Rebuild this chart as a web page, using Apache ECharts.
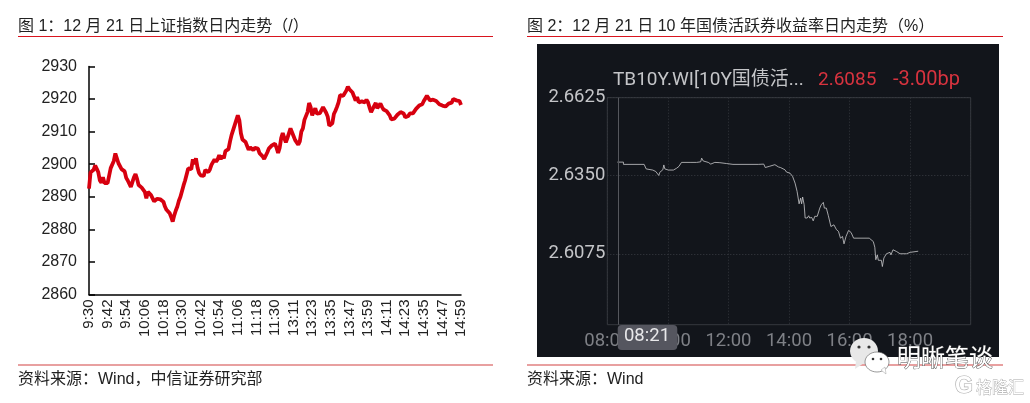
<!DOCTYPE html>
<html><head><meta charset="utf-8">
<style>html,body{margin:0;padding:0;background:#fff}#c{width:1030px;height:403px}</style>
<script src="https://cdn.jsdelivr.net/npm/echarts@6/dist/echarts.min.js"></script>
</head><body><div id="c"></div>
<script>
const morningStart = 570, morningCount = 121, afternoonStart = 780, afternoonCount = 120;
const indexValues = [
2892.5,2897.5,2898,2898.3,2899.6,2898.6,2897.5,2895,2894.3,2896,2894.2,2893.8,2894.2,2896.5,2898.8,2899,2901,2903.3,2903,2900.3,
2900.2,2898.5,2898.7,2897.8,2895.8,2895,2894,2893,2894.5,2896,2897,2895.5,2893.6,2893.3,2892.8,2892.3,2891.5,2889.5,2891.5,2892,
2890.5,2890.8,2888.6,2889,2889.4,2889.6,2889.2,2889,2888.5,2887,2886,2885.6,2885,2883.8,2882.4,2884.3,2885.8,2887,2888.8,2890,
2889.8,2893.5,2895,2894.8,2898.7,2898.2,2898.5,2901.5,2900,2901.8,2899,2897.3,2896.6,2896.2,2896.4,2898.2,2898.8,2897.6,2898.4,2899.8,
2900,2901.5,2900.8,2901.5,2902.8,2901.5,2902.6,2901.8,2904,2903.8,2904.6,2907,2909,2909,2912,2912.4,2915,2913.5,2909.5,2907.6,
2908,2906.8,2906.4,2904.4,2905.2,2905.2,2904.3,2905,2905.6,2904.8,2903.4,2902.8,2902.4,2901.6,2901.6,2903.6,2904.8,2905.3,2905.8,2906.2,
2906.3,2905,2903.5,2905,2908,2909.6,2908,2906.7,2908,2908.6,2911,2910.8,2908.6,2907.4,2907.2,2906,2907,2910,2911,2913.6,
2913.6,2916,2918.8,2917.5,2915,2916.2,2917.2,2915.5,2915.6,2915.7,2916.2,2917.5,2917.2,2915.8,2914.6,2911.8,2911.6,2912.6,2915.4,2916.4,
2917.6,2919,2921.2,2920.8,2921,2920.6,2922.6,2923.8,2923,2923.2,2922,2920.8,2919.5,2920.6,2919,2918.6,2919.3,2918.8,2919,2919.8,
2919,2917.4,2916,2917,2917.6,2918.8,2917.2,2917.4,2918.6,2917.6,2916.8,2916.4,2916.3,2916.2,2915,2913.8,2913.3,2914,2914.6,2915.2,
2915.8,2916,2915.6,2915.6,2914.4,2914,2914.8,2915.6,2915.4,2915.6,2915.4,2917,2917.4,2918,2918.2,2918.4,2919.4,2920.2,2921,2920.6,
2919.6,2919.6,2919.8,2919.6,2919.4,2919,2918.4,2918.2,2918,2917.6,2917.7,2918,2918.6,2918.8,2918.9,2920,2919.6,2919.6,2919.5,2919.4,
2918.2];
const bondTimes = ['08:20','08:32','08:32','09:13','09:17','09:19','09:30','09:32','09:33','09:36','09:39','09:42','09:44','09:50','09:52','09:54','10:01','10:11','10:17','10:22','10:27','10:44','10:45','10:46','10:57','10:58','11:00','11:05','11:07','11:10','11:20','11:25','11:33','11:43','11:56','12:09','12:59','13:00','13:10','13:13','13:21','13:32','13:39','13:43','13:52','13:55','14:02','14:07','14:12','14:16','14:20','14:23','14:25','14:27','14:30','14:32','14:36','14:39','14:41','14:45','14:48','14:51','14:56','15:01','15:04','15:08','15:10','15:14','15:18','15:21','15:23','15:29','15:34','15:38','15:42','15:46','15:49','15:53','15:58','16:03','16:08','16:39','16:47','16:50','16:52','16:55','16:57','17:03','17:05','17:08','17:13','17:20','17:22','17:26','17:33','17:40','17:53','18:00','18:16'];
const bondValues = [2.6398,2.6398,2.6390,2.6390,2.6374,2.6370,2.6370,2.6363,2.6374,2.6365,2.6363,2.6351,2.6362,2.6371,2.6388,2.6374,2.6370,2.6370,2.6376,2.6383,2.6397,2.6397,2.6390,2.6397,2.6397,2.6390,2.6397,2.6399,2.6412,2.6402,2.6397,2.6391,2.6397,2.6396,2.6393,2.6390,2.6390,2.6393,2.6391,2.6379,2.6383,2.6389,2.6381,2.6379,2.6371,2.6363,2.6359,2.6348,2.6324,2.6295,2.6251,2.6271,2.6251,2.6275,2.6248,2.6201,2.6201,2.6209,2.6201,2.6203,2.6191,2.6207,2.6207,2.6236,2.6248,2.6256,2.6236,2.6236,2.6209,2.6204,2.6171,2.6177,2.6160,2.6154,2.6130,2.6136,2.6110,2.6136,2.6157,2.6150,2.6130,2.6130,2.6118,2.6098,2.6054,2.6071,2.6052,2.6052,2.6030,2.6060,2.6075,2.6080,2.6071,2.6089,2.6083,2.6075,2.6075,2.6080,2.6084];
const bondTicks = [2.6075,2.6350,2.6625];
const cursorTime = '08:21';
const titleLeft = '图 1：12 月 21 日上证指数日内走势（/）';
const titleRight = '图 2：12 月 21 日 10 年国债活跃券收益率日内走势（%）';
const sourceLeft = '资料来源：Wind，中信证券研究部';
const sourceRight = '资料来源：Wind';

const hm = m => Math.floor(m/60) + ':' + String(m%60).padStart(2,'0');
const toMin = s => { const p = s.split(':'); return +p[0]*60 + +p[1]; };
const pad = m => String(Math.floor(m/60)).padStart(2,'0') + ':' + String(m%60).padStart(2,'0');
const categories = [];
for (let i=0;i<morningCount;i++) categories.push(hm(morningStart+i));
for (let i=0;i<afternoonCount;i++) categories.push(hm(afternoonStart+i));

const cjk = '"Liberation Sans","Noto Sans CJK SC",sans-serif';
const bondFont = 'Roboto,"Noto Sans CJK SC",sans-serif';
const txt = (text,x,y,size,fill,extra,z) => ({type:'text',x,y,z:z||5,silent:true,style:Object.assign({text,fontSize:size,fill,fontFamily:cjk,textVerticalAlign:'middle'},extra||{})});
const rule = (x1,x2,y,color,w) => ({type:'line',z:5,silent:true,shape:{x1,y1:y,x2,y2:y},style:{stroke:color,lineWidth:w}});

const chart = echarts.init(document.getElementById('c'),null,{renderer:'canvas'});
chart.setOption({
  animation:false,
  backgroundColor:'#fff',
  grid:[
    {left:89,width:372,top:66.5,height:228},
    {left:607.3,width:363.4,top:97.7,height:227,show:true,borderColor:'#35383e',borderWidth:1,backgroundColor:'transparent'}
  ],
  xAxis:[
    {type:'category',gridIndex:0,data:categories,boundaryGap:false,
     axisLine:{lineStyle:{color:'#000',width:1.5}},axisTick:{show:false},
     axisLabel:{interval:11,rotate:90,color:'#222',fontSize:15,fontFamily:'"Liberation Sans"',margin:5},splitLine:{show:false}},
    {type:'value',gridIndex:1,min:480,max:1200,interval:120,
     axisLine:{show:false},axisTick:{show:false},
     axisLabel:{color:'#7e8086',fontSize:18.5,fontFamily:bondFont,margin:7,showMaxLabel:false,showMinLabel:true,formatter:v=>v>=1200?'':pad(v)},
     splitLine:{show:true,lineStyle:{color:'#33363c',type:[1,2],width:1}}}
  ],
  yAxis:[
    {type:'value',gridIndex:0,min:2860,max:2930,interval:10,
     axisLine:{show:true,lineStyle:{color:'#000',width:1.5}},
     axisTick:{show:true,inside:true,length:6,lineStyle:{color:'#000',width:1.5}},
     axisLabel:{color:'#222',fontSize:16,fontFamily:'"Liberation Sans"',margin:12,padding:[2,0,0,0],formatter:v=>String(v)},splitLine:{show:false}},
    {type:'value',gridIndex:1,min:2.5825,max:2.6625,
     axisLine:{show:false},
     axisTick:{show:false,customValues:bondTicks},
     axisLabel:{color:'#c4c5c8',fontSize:18.5,fontFamily:bondFont,margin:2,padding:[5,0,0,0],customValues:bondTicks,formatter:v=>v.toFixed(4)},
     splitLine:{show:true,lineStyle:{color:'#3a3d43',type:[1,2],width:1}}}
  ],
  series:[
    {type:'line',xAxisIndex:0,yAxisIndex:0,data:indexValues,showSymbol:false,symbol:'none',
     lineStyle:{color:'#d7000f',width:3.8},z:3},
    {type:'line',xAxisIndex:1,yAxisIndex:1,data:bondTimes.map((t,i)=>[toMin(t),bondValues[i]]),showSymbol:false,symbol:'none',
     lineStyle:{color:'#c9c9cb',width:0.8},z:3,
     markLine:{silent:true,symbol:'none',label:{show:false},animation:false,
       lineStyle:{color:'#55575d',type:'solid',width:1},data:[{xAxis:toMin(cursorTime)}]}}
  ],
  graphic:[
    {type:'rect',z:-1,silent:true,shape:{x:537,y:44,width:462,height:313},style:{fill:'#12151b'}},
    rule(18,493,36.5,'#d9141e',1), rule(527,1003,36.5,'#d9141e',1),
    rule(18,493,365,'#e08080',1.6), rule(527,1003,365,'#e08080',1.6),
    txt(titleLeft,18,27,16,'#222'),
    txt(titleRight,527,27,16,'#222'),
    txt(sourceLeft,18,380,16,'#222'),
    txt(sourceRight,527,380,16,'#222'),
    txt('TB10Y.WI[10Y国债活...',613,80,19,'#c4c5c8',{fontFamily:bondFont}),
    txt('2.6085',818,80,19,'#d8333f',{fontFamily:bondFont}),
    txt('-3.00bp',893,80,20,'#d8333f',{fontFamily:bondFont}),
    {type:'rect',z:6,silent:true,shape:{x:617.7,y:325,width:59.6,height:25,r:4},style:{fill:'#55565f'}},
    txt(cursorTime,647,336,18.5,'#e8e8ea',{fontFamily:bondFont,textAlign:'center'},7),
    {type:'ellipse',z:8,silent:true,shape:{cx:864,cy:351,rx:14,ry:13},style:{fill:'#e8e8e8'}},
    {type:'polygon',z:8,silent:true,shape:{points:[[856,361],[855,369],[864,363]]},style:{fill:'#e8e8e8'}},
    {type:'ellipse',z:8,silent:true,shape:{cx:877,cy:362,rx:12,ry:10},style:{fill:'#fff',stroke:'#555',lineWidth:0.6}},
    {type:'polygon',z:8,silent:true,shape:{points:[[881,370],[886,374],[885,367]]},style:{fill:'#fff',stroke:'#888',lineWidth:0.4}},
    {type:'circle',z:9,silent:true,shape:{cx:859,cy:347,r:1.6},style:{fill:'#333'}},
    {type:'circle',z:9,silent:true,shape:{cx:869,cy:347,r:1.6},style:{fill:'#333'}},
    {type:'circle',z:9,silent:true,shape:{cx:873,cy:359,r:1.3},style:{fill:'#333'}},
    {type:'circle',z:9,silent:true,shape:{cx:881,cy:359,r:1.3},style:{fill:'#333'}},
    txt('明晰笔谈',897,357,24,'#fff',{stroke:'#444',lineWidth:0.8,fontFamily:'"Noto Sans CJK SC"'},9),
    txt('G',955,387,23,'#fff',{stroke:'#aaa',lineWidth:1.2,fontWeight:'bold'},9),
    txt('格隆汇',976,387,16,'#fff',{stroke:'#aaa',lineWidth:0.8,fontFamily:'"Noto Sans CJK SC"'},9)
  ]
});
</script></body></html>
